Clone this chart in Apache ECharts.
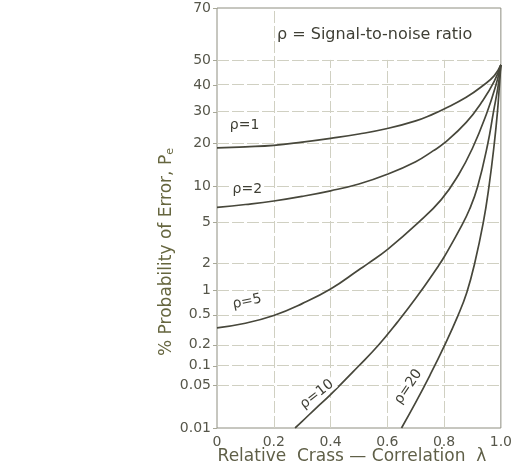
<!DOCTYPE html>
<html><head><meta charset="utf-8">
<script src="https://cdn.jsdelivr.net/npm/echarts@6/dist/echarts.min.js"></script>
<style>html,body{margin:0;padding:0;background:#fff}#c{width:515px;height:475px}</style>
</head><body><div id="c"></div>
<script>
// ---------- data ----------
const xTickValues = [0, 0.2, 0.4, 0.6, 0.8, 1.0];
const xTickLabels = ['0', '0.2', '0.4', '0.6', '0.8', '1.0'];
const yTickValues = [0.01, 0.05, 0.1, 0.2, 0.5, 1, 2, 5, 10, 20, 30, 40, 50, 70];
const yTickLabels = ['0.01', '0.05', '0.1', '0.2', '0.5', '1', '2', '5', '10', '20', '30', '40', '50', '70'];
const yGridValues = [0.05, 0.1, 0.2, 0.5, 1, 2, 5, 10, 20, 30, 40, 50];
const xGridValues = [0.2, 0.4, 0.6, 0.8];

const rho1Lambda = [0, 0.1, 0.2, 0.3, 0.4, 0.5, 0.6, 0.7, 0.761, 0.8, 0.878, 0.936, 0.977, 1.0];
const rho1Pe     = [18.7, 19.0, 19.4, 20.3, 21.4, 22.7, 24.4, 26.9, 29.2, 31, 35.3, 39.7, 43.7, 48];
const rho2Lambda = [0, 0.1, 0.2, 0.3, 0.4, 0.5, 0.6, 0.7, 0.761, 0.8, 0.878, 0.936, 0.977, 1.0];
const rho2Pe     = [6.8, 7.2, 7.7, 8.4, 9.3, 10.5, 12.4, 15.2, 17.9, 20, 26.4, 34, 41.5, 48];
const rho5Lambda = [0, 0.1, 0.2, 0.3, 0.4, 0.5, 0.534, 0.6, 0.709, 0.79, 0.85, 0.9, 0.948, 0.982, 1.0];
const rho5Pe     = [0.34, 0.39, 0.49, 0.69, 1.03, 1.7, 2.0, 2.76, 5, 7.9, 12.2, 18.6, 28.9, 39.7, 48];
const rho10Lambda = [0.275, 0.3, 0.35, 0.4, 0.5, 0.57, 0.635, 0.7, 0.78, 0.8, 0.86, 0.89, 0.918, 0.953, 0.974, 0.991, 1.0];
const rho10Pe     = [0.01, 0.013, 0.022, 0.036, 0.1, 0.2, 0.40, 0.80, 1.87, 2.32, 4.6, 6.6, 10, 19.5, 30, 40, 48];
const rho20Lambda = [0.65, 0.7, 0.75, 0.8, 0.85, 0.88, 0.907, 0.938, 0.958, 0.977, 0.988, 0.995, 1.0];
const rho20Pe     = [0.01, 0.027, 0.072, 0.19, 0.5, 0.94, 1.95, 5, 10, 20, 30, 40, 48];

const curveNames = ['ρ=1', 'ρ=2', 'ρ=5', 'ρ=10', 'ρ=20'];
const curveLambdas = [rho1Lambda, rho2Lambda, rho5Lambda, rho10Lambda, rho20Lambda];
const curvePes = [rho1Pe, rho2Pe, rho5Pe, rho10Pe, rho20Pe];

// label anchors (lambda, Pe %) and rotation (deg) — layout, not data
const labelAnchorLambda = [0.097, 0.107, 0.106, 0.352, 0.674];
const labelAnchorPe     = [25.5, 9.5, 0.73, 0.0366, 0.048];
const labelRotation     = [0, 0, 12, 38, 56];

// ---------- normal-probability scale ----------
function probit(p) {
  const a=[-3.969683028665376e+01,2.209460984245205e+02,-2.759285104469687e+02,1.383577518672690e+02,-3.066479806614716e+01,2.506628277459239e+00];
  const b=[-5.447609879822406e+01,1.615858368580409e+02,-1.556989798598866e+02,6.680131188771972e+01,-1.328068155288572e+01];
  const c=[-7.784894002430293e-03,-3.223964580411365e-01,-2.400758277161838e+00,-2.549732539343734e+00,4.374664141464968e+00,2.938163982698783e+00];
  const d=[7.784695709041462e-03,3.224671290700398e-01,2.445134137142996e+00,3.754408661907416e+00];
  const pl=0.02425, ph=1-pl; let q, r;
  if (p < pl) { q=Math.sqrt(-2*Math.log(p)); return (((((c[0]*q+c[1])*q+c[2])*q+c[3])*q+c[4])*q+c[5])/((((d[0]*q+d[1])*q+d[2])*q+d[3])*q+1); }
  if (p <= ph) { q=p-0.5; r=q*q; return (((((a[0]*r+a[1])*r+a[2])*r+a[3])*r+a[4])*r+a[5])*q/(((((b[0]*r+b[1])*r+b[2])*r+b[3])*r+b[4])*r+1); }
  q=Math.sqrt(-2*Math.log(1-p)); return -(((((c[0]*q+c[1])*q+c[2])*q+c[3])*q+c[4])*q+c[5])/((((d[0]*q+d[1])*q+d[2])*q+d[3])*q+1);
}
const Z = pct => probit(pct / 100);
const yTickZ = yTickValues.map(Z);
const zMin = Z(yTickValues[0]), zMax = Z(yTickValues[yTickValues.length - 1]);

const FONT = '"DejaVu Sans", sans-serif';
const curveColor = '#47473b';
const gridColor = '#d0d0c2';
const textColor = '#56564a';

const chart = echarts.init(document.getElementById('c'), null, { renderer: 'canvas' });

const gridLineSeries = {
  type: 'line', data: [], silent: true,
  markLine: {
    silent: true, symbol: 'none', animation: false,
    label: { show: false },
    lineStyle: { color: gridColor, type: [12, 3], width: 1 },
    data: yGridValues.map(v => ({ yAxis: Z(v) })).concat(
      xGridValues.map(x => [{ coord: [x, zMin] }, { coord: [x, x === 0.2 ? zMax : Z(50)] }])
    )
  }
};

const curveSeries = curveNames.map((name, i) => ({
  name, type: 'line', showSymbol: false, symbol: 'none',
  smooth: 0.45, clip: true, animation: false,
  lineStyle: { color: curveColor, width: 1.7 },
  data: curveLambdas[i].map((l, j) => [l, Z(curvePes[i][j])]),
  z: 5
}));

chart.setOption({
  animation: false,
  backgroundColor: '#fff',
  grid: { left: 217, right: 11, top: 8, bottom: 47, show: true, borderColor: '#8e8e80', borderWidth: 1 },
  xAxis: {
    type: 'value', min: 0, max: 1, interval: 0.2,
    axisLine: { show: false }, splitLine: { show: false },
    axisTick: { show: false },
    axisLabel: {
      margin: 7, color: textColor, fontFamily: FONT, fontSize: 14,
      formatter: v => { const i = xTickValues.findIndex(t => Math.abs(t - v) < 1e-6); return i >= 0 ? xTickLabels[i] : ''; }
    }
  },
  yAxis: {
    type: 'value', min: zMin, max: zMax,
    axisLine: { show: false }, splitLine: { show: false },
    axisTick: { show: true, customValues: yTickZ, length: 4, lineStyle: { color: '#a8a898' } },
    axisLabel: {
      customValues: yTickZ, margin: 6, color: textColor, fontFamily: FONT, fontSize: 14,
      formatter: v => {
        let best = 0, bd = Infinity;
        yTickZ.forEach((t, i) => { const dd = Math.abs(t - v); if (dd < bd) { bd = dd; best = i; } });
        return yTickLabels[best];
      }
    }
  },
  series: [gridLineSeries].concat(curveSeries)
});

// annotations
const labelGraphics = curveNames.map((name, i) => {
  const p = chart.convertToPixel({ gridIndex: 0 }, [labelAnchorLambda[i], Z(labelAnchorPe[i])]);
  return {
    type: 'text', x: p[0], y: p[1], rotation: labelRotation[i] * Math.PI / 180, z: 20,
    style: { text: name, font: '14px ' + FONT, fill: '#3f3f35', align: 'center', verticalAlign: 'middle',
             backgroundColor: '#fff', padding: [0, 2] }
  };
});

chart.setOption({
  graphic: labelGraphics.concat([
    {
      type: 'text', x: 277, y: 35, z: 20,
      style: { text: 'ρ = Signal-to-noise ratio', font: '16px ' + FONT, fill: '#3f3f35', verticalAlign: 'middle' }
    },
    {
      type: 'text', x: 167, y: 252, rotation: Math.PI / 2, z: 20,
      style: {
        text: '% Probability of Error, P{s|e}', font: '17px ' + FONT, fill: '#66663f',
        align: 'center', verticalAlign: 'middle',
        rich: { s: { fontSize: 11, fontFamily: FONT, fill: '#66663f', padding: [7, 0, 0, 0] } }
      }
    },
    {
      type: 'text', x: 352, y: 457, z: 20,
      style: { text: 'Relative  Crass — Correlation  λ', font: '17px ' + FONT, fill: '#5f5f47',
               align: 'center', verticalAlign: 'middle' }
    }
  ])
});
</script>
</body></html>
